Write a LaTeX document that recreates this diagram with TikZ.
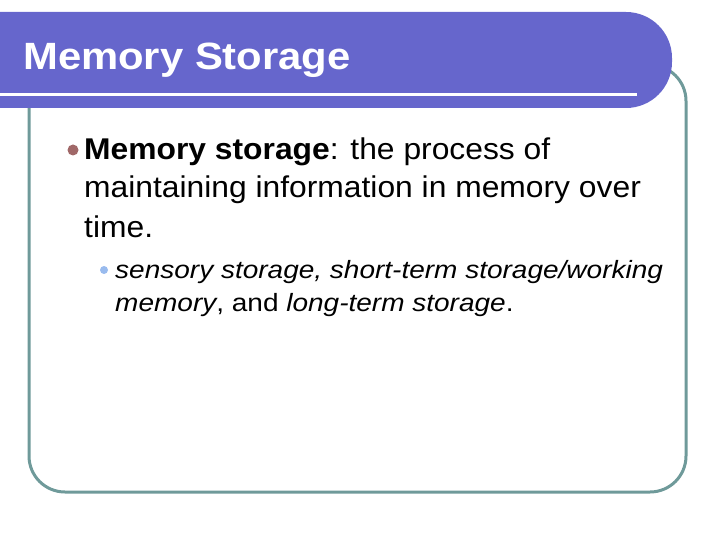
\documentclass[tikz,border=0pt]{standalone}
\usepackage{fontspec}
\setmainfont{Liberation Sans}
\definecolor{hdr}{HTML}{6666CC}
\definecolor{frm}{HTML}{6F9A9A}
\definecolor{bul}{HTML}{A06868}
\definecolor{bul2}{HTML}{99BBEE}
\begin{document}
\begin{tikzpicture}[x=1pt,y=-1pt,
  body/.style={anchor=base west,inner sep=0pt,xscale=1.06,font=\fontsize{30}{34}\selectfont},
  sub/.style={anchor=base west,inner sep=0pt,xscale=1.12,font=\fontsize{25}{28}\selectfont\itshape}]
\useasboundingbox (0,0) rectangle (720,540);
\draw[frm,line width=3pt,rounded corners=36pt] (29,65) rectangle (686,492);
\fill[hdr,rounded corners=46pt] (-60,12) rectangle (672,108);
\draw[white,line width=3pt] (0,95) -- (637,95);
\node[anchor=base west,inner sep=0pt,xscale=1.10,text=white,font=\fontsize{38}{40}\selectfont\bfseries] (t) at (23,70) {Memory Storage};
\fill[bul] (73,150) circle (5.5pt);
\node[body] (l1) at (84,160) {\textbf{Memory storage}: the process of};
\node[body] (l2) at (84,198) {maintaining information in memory over};
\node[body] (l3) at (84,237) {time.};
\fill[bul2] (104,270) circle (4pt);
\node[sub] (s1) at (115,278) {sensory storage, short-term storage/working};
\node[sub] (s2) at (115,311) {memory\upshape, and \itshape long-term storage\upshape.};
\end{tikzpicture}
\end{document}
